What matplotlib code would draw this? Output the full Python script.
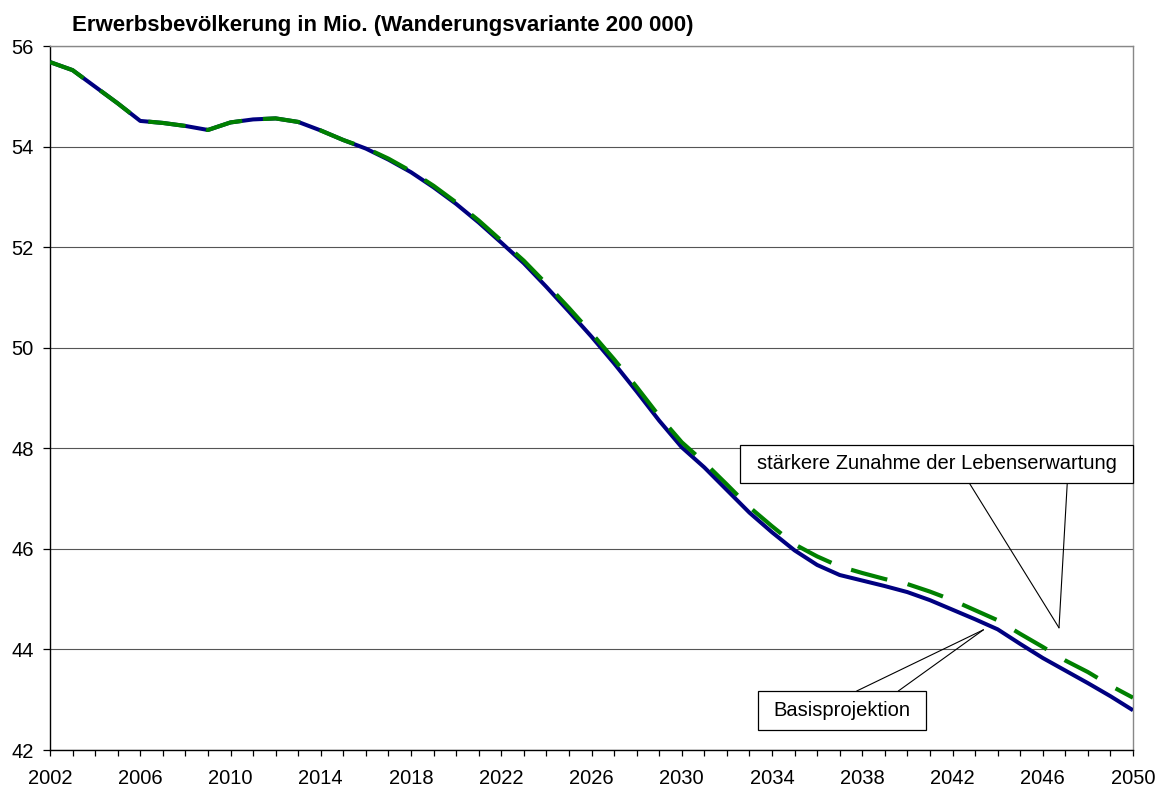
import matplotlib
matplotlib.use("Agg")
import matplotlib.pyplot as plt
from matplotlib.patches import Rectangle

plt.rcParams['font.family'] = ['Liberation Sans', 'DejaVu Sans']

years = list(range(2002, 2051))

basis = [55.68, 55.52, 55.19, 54.86, 54.51, 54.47, 54.41, 54.33, 54.48, 54.54,
         54.56, 54.49, 54.32, 54.13, 53.96, 53.74, 53.49, 53.19, 52.86, 52.49,
         52.09, 51.68, 51.21, 50.72, 50.22, 49.69, 49.13, 48.55, 48.02, 47.62,
         47.17, 46.72, 46.33, 45.97, 45.68, 45.48, 45.37, 45.26, 45.14, 44.98,
         44.79, 44.60, 44.40, 44.11, 43.83, 43.58, 43.33, 43.07, 42.79]

lebenserwartung = [55.68, 55.52, 55.19, 54.86, 54.51, 54.47, 54.41, 54.33, 54.48, 54.54,
                   54.56, 54.49, 54.32, 54.13, 53.97, 53.76, 53.51, 53.22, 52.89, 52.53,
                   52.13, 51.73, 51.27, 50.79, 50.29, 49.77, 49.22, 48.64, 48.12, 47.72,
                   47.28, 46.83, 46.45, 46.09, 45.85, 45.65, 45.52, 45.40, 45.30, 45.15,
                   44.98, 44.78, 44.58, 44.31, 44.05, 43.78, 43.55, 43.28, 43.04]

title = "Erwerbsbevölkerung in Mio. (Wanderungsvariante 200 000)"
label_basis = "Basisprojektion"
label_lebens = "stärkere Zunahme der Lebenserwartung"

# pointer targets (year, value)
target_basis = (2043.37, 44.39)
target_lebens = (2046.72, 44.43)

fig = plt.figure(figsize=(11.62, 7.90), dpi=100)
ax = fig.add_axes([50 / 1162, 1 - 750 / 790, 1083 / 1162, 704 / 790])

ax.plot(years, basis, color='#000080', lw=2.9, solid_capstyle='butt', zorder=3)
ax.plot(years, lebenserwartung, color='#008000', lw=3.0, dashes=(9, 5),
        dash_capstyle='butt', zorder=4)

ax.set_xlim(2002, 2050)
ax.set_ylim(42, 56)
ax.set_yticks(range(42, 57, 2))
ax.set_xticks(years)
ax.set_xticklabels([str(y) if (y - 2002) % 4 == 0 else '' for y in years])

ax.yaxis.grid(True, color='#555555', lw=0.8)
ax.xaxis.grid(False)
ax.set_axisbelow(True)

for side in ['left', 'bottom']:
    ax.spines[side].set_color('black')
    ax.spines[side].set_linewidth(1.0)
for side in ['top', 'right']:
    ax.spines[side].set_color('#888888')
    ax.spines[side].set_linewidth(1.0)

ax.tick_params(axis='x', direction='out', length=4.5, width=0.9, pad=9,
               labelsize=14.5, color='black')
ax.tick_params(axis='y', direction='out', length=4.8, width=0.9, pad=7,
               labelsize=14.5, color='black')

fig.text(72 / 1162, 1 - 25 / 790, title, fontsize=16, fontweight='bold',
         va='center', ha='left')

# annotation boxes (axes fraction)
ax.add_patch(Rectangle((0.6371, 0.3793), 0.3629, 0.0539, transform=ax.transAxes,
                       facecolor='white', edgecolor='black', lw=0.9, zorder=6,
                       clip_on=False))
ax.text(0.8186, 0.4063, label_lebens, transform=ax.transAxes, fontsize=14.5,
        ha='center', va='center', zorder=7)
for xs in (0.8488, 0.9393):
    ax.annotate('', xy=target_lebens, xycoords='data',
                xytext=(xs, 0.3793), textcoords='axes fraction',
                arrowprops=dict(arrowstyle='-', color='black', lw=0.8,
                                shrinkA=0, shrinkB=0), zorder=5)

ax.add_patch(Rectangle((0.6537, 0.0284), 0.1552, 0.0554, transform=ax.transAxes,
                       facecolor='white', edgecolor='black', lw=0.9, zorder=6))
ax.text(0.7313, 0.0561, label_basis, transform=ax.transAxes, fontsize=14.5,
        ha='center', va='center', zorder=7)
for xs in (0.7449, 0.7833):
    ax.annotate('', xy=target_basis, xycoords='data',
                xytext=(xs, 0.0838), textcoords='axes fraction',
                arrowprops=dict(arrowstyle='-', color='black', lw=0.8,
                                shrinkA=0, shrinkB=0), zorder=5)

fig.savefig('out.png', dpi=100)
plt.close(fig)
